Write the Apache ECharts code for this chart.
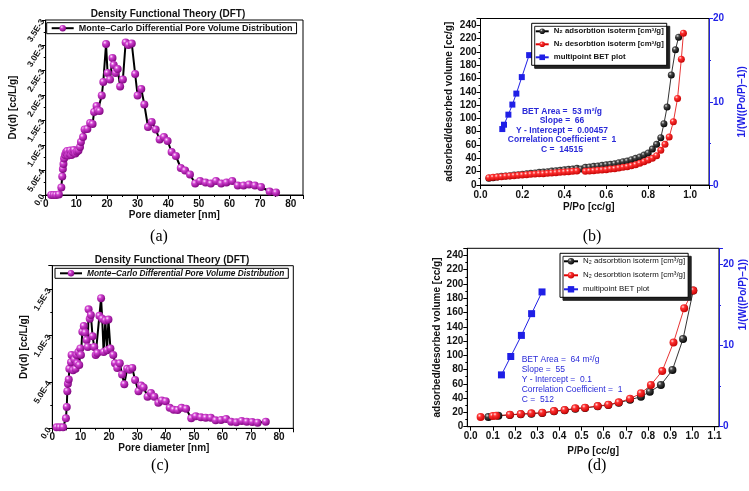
<!DOCTYPE html>
<html>
<head>
<meta charset="utf-8">
<script src="https://cdn.jsdelivr.net/npm/echarts@6/dist/echarts.min.js"></script>
<style>
  html, body { margin: 0; background: #fff; }
  #chart { width: 749px; height: 491px; }
</style>
</head>
<body>
<div id="chart"></div>
<script>
// (a) DFT pore distribution
const aPore = [1.8, 2.6, 3.4, 4.3, 5.1, 5.4, 5.6, 5.8, 6.0, 6.3, 6.6, 7.0, 7.3, 7.7, 8.0, 8.4, 8.8, 9.2, 9.7,
  10.2, 10.7, 11.2, 11.5, 12.2, 12.7, 13.6, 14.5, 15.3, 15.8, 16.6, 17.0, 17.6, 18.3, 18.8, 19.7, 20.2, 21.0,
  21.8, 22.2, 22.8, 23.5, 24.3, 25.2, 26.1, 27.0, 28.1, 29.2, 30.0, 31.2, 32.2, 33.4, 34.6, 35.9, 37.2, 38.6,
  39.8, 41.1, 42.5, 44.1, 45.5, 47.1, 48.8, 50.4, 52.2, 53.9, 55.6, 57.3, 59.0, 60.9, 62.7, 64.6, 66.4, 68.3,
  70.3, 73.1, 75.2];
const aDv = [0, 0, 0, 1e-5, 1.5e-4, 3.7e-4, 5.2e-4, 6.2e-4, 7.3e-4, 8.0e-4, 8.5e-4, 8.8e-4, 7.9e-4, 8.3e-4,
  8.9e-4, 8.0e-4, 8.6e-4, 9.0e-4, 8.3e-4, 8.7e-4, 8.9e-4, 9.6e-4, 1.06e-3, 1.16e-3, 1.31e-3, 1.32e-3, 1.44e-3,
  1.42e-3, 1.66e-3, 1.78e-3, 1.69e-3, 1.68e-3, 1.99e-3, 2.26e-3, 3.02e-3, 2.44e-3, 2.31e-3, 2.74e-3, 2.60e-3,
  2.44e-3, 2.52e-3, 2.17e-3, 2.31e-3, 3.05e-3, 3.00e-3, 3.03e-3, 2.42e-3, 1.99e-3, 2.12e-3, 1.81e-3, 1.36e-3,
  1.46e-3, 1.31e-3, 1.11e-3, 1.16e-3, 1.08e-3, 8.6e-4, 7.8e-4, 5.4e-4, 4.9e-4, 4.1e-4, 2.3e-4, 2.8e-4, 2.5e-4,
  2.3e-4, 2.8e-4, 2.3e-4, 2.5e-4, 2.8e-4, 1.9e-4, 1.9e-4, 2.1e-4, 1.9e-4, 1.6e-4, 7e-5, 5e-5];

// (c) DFT pore distribution
const cPore = [1.5, 2.6, 3.8, 4.8, 5.1, 5.3, 5.5, 5.8, 6.0, 6.6, 6.8, 7.3, 7.8, 8.2, 8.6, 8.8, 9.2, 9.5, 9.9,
  10.1, 10.6, 11.1, 11.6, 12.1, 12.5, 12.8, 13.2, 13.6, 14.2, 14.8, 15.3, 15.9, 16.6, 17.2, 17.6, 18.1, 18.7,
  19.3, 19.8, 20.5, 21.5, 22.1, 22.9, 23.8, 24.6, 25.4, 26.4, 27.3, 28.2, 29.2, 30.4, 31.3, 32.2, 33.6, 34.8,
  36.0, 37.4, 38.6, 40.0, 41.4, 42.8, 44.2, 45.6, 47.2, 49.0, 50.6, 52.4, 54.1, 55.9, 57.6, 59.5, 61.3, 63.1,
  64.9, 66.8, 68.6, 70.5, 72.4, 75.3];
const cDv = [1e-5, 1e-5, 1e-5, 1.07e-4, 2.3e-4, 4.0e-4, 4.8e-4, 5.25e-4, 6.4e-4, 7.1e-4, 7.9e-4, 6.25e-4, 7.4e-4,
  6.4e-4, 7.9e-4, 7.0e-4, 8.2e-4, 6.8e-4, 8.6e-4, 7.9e-4, 1.04e-3, 1.10e-3, 1.03e-3, 9.5e-4, 8.75e-4, 1.28e-3,
  1.18e-3, 1.22e-3, 9.9e-4, 8.75e-4, 7.9e-4, 8.1e-4, 1.21e-3, 1.40e-3, 1.18e-3, 8.2e-4, 1.16e-3, 8.4e-4, 1.17e-3,
  8.6e-4, 7.9e-4, 7.0e-4, 6.5e-4, 7.0e-4, 5.8e-4, 4.75e-4, 6.4e-4, 6.3e-4, 6.5e-4, 5.2e-4, 4.0e-4, 4.6e-4,
  4.4e-4, 3.4e-4, 3.8e-4, 3.4e-4, 2.75e-4, 3.0e-4, 2.9e-4, 2.2e-4, 2.0e-4, 1.96e-4, 2.2e-4, 2.1e-4, 1.07e-4,
  1.29e-4, 1.18e-4, 1.14e-4, 1.14e-4, 8.6e-5, 9.0e-5, 1.0e-4, 7.1e-5, 6.4e-5, 7.9e-5, 7.1e-5, 6.8e-5, 6.1e-5, 7.1e-5];

// (b) isotherms + BET
const bAdsP = [0.04, 0.06, 0.08, 0.10, 0.12, 0.14, 0.16, 0.18, 0.20, 0.22, 0.24, 0.26, 0.28, 0.30, 0.32, 0.34,
  0.36, 0.38, 0.40, 0.42, 0.44, 0.46, 0.48, 0.50, 0.52, 0.54, 0.56, 0.58, 0.60, 0.62, 0.64, 0.66, 0.68, 0.70,
  0.72, 0.74, 0.76, 0.78, 0.80, 0.82, 0.84, 0.86, 0.875, 0.89, 0.91, 0.93, 0.945];
const bAdsV = [10, 11, 12, 13, 13.5, 14, 15, 15.5, 16, 17, 17.5, 18, 19, 19.5, 20, 21, 21.5, 22, 23, 23.5, 24,
  25, 24, 26.5, 27, 28, 28.5, 29.5, 30.5, 31, 32, 33.5, 35, 36, 38, 40, 42, 45, 48, 54, 61, 71, 92, 117, 165,
  203, 222];
const bDesP = [0.04, 0.06, 0.08, 0.10, 0.12, 0.14, 0.16, 0.18, 0.20, 0.22, 0.24, 0.26, 0.28, 0.30, 0.32, 0.34,
  0.36, 0.38, 0.40, 0.42, 0.44, 0.46, 0.50, 0.52, 0.54, 0.56, 0.58, 0.60, 0.62, 0.64, 0.66, 0.68, 0.70, 0.72,
  0.74, 0.76, 0.78, 0.80, 0.82, 0.84, 0.86, 0.88, 0.90, 0.92, 0.94, 0.958, 0.968];
const bDesV = [11, 11.5, 12, 12.5, 13, 13.5, 14, 14.5, 15, 15.5, 16, 16.5, 17, 17, 17.5, 18, 18.5, 19, 19.5,
  20, 20.5, 21, 20.5, 21, 21.5, 22, 22.5, 23, 24, 24.5, 25.5, 26.5, 27.5, 29, 30.5, 32.5, 35, 37.5, 40, 44, 52,
  61, 72, 95, 130, 189, 228];
const bBetP = [0.104, 0.112, 0.133, 0.152, 0.171, 0.197, 0.232];
const bBetV = [6.72, 7.24, 8.45, 9.66, 10.98, 12.96, 15.6];
const bNotes = ['BET Area =  53 m²/g', 'Slope =  66', 'Y - Intercept =  0.00457',
  'Correlation Coefficient =  1', 'C =  14515'];

// (d) isotherms + BET
const dAdsP = [0.08, 0.125, 0.177, 0.226, 0.274, 0.323, 0.376, 0.424, 0.472, 0.516, 0.573, 0.621, 0.668,
  0.719, 0.768, 0.808, 0.858, 0.91, 0.958, 1.004];
const dAdsV = [13.6, 15.2, 16.5, 17.5, 18.3, 19.3, 21.5, 23, 25.3, 26.3, 28.5, 30.5, 33.5, 37.8, 42, 49, 58.5,
  79.5, 123, 191];
const dDesP = [0.045, 0.10, 0.115, 0.177, 0.226, 0.274, 0.323, 0.376, 0.424, 0.472, 0.516, 0.573, 0.621, 0.668,
  0.719, 0.768, 0.813, 0.864, 0.915, 0.963, 1.004];
const dDesV = [13.6, 15, 15.5, 16.8, 17.8, 18.7, 19.6, 22, 23.4, 25.7, 26.7, 29, 30.9, 34.1, 39.3, 46.8, 58.5,
  78, 118, 166, 191];
const dBetP = [0.139, 0.181, 0.229, 0.275, 0.322];
const dBetV = [6.39, 8.66, 11.26, 13.94, 16.62];
const dTicks = [0.0, 0.1, 0.2, 0.3, 0.4, 0.5, 0.6, 0.7, 0.8, 0.9, 1.0, 1.1];
const dNotes = ['BET Area =  64 m²/g', 'Slope =  55', 'Y - Intercept =  0.1',
  'Correlation Coefficient =  1', 'C =  512'];

const FONT = 'Liberation Sans, Arial, sans-serif';
const BLUE = '#1f1fe6';
const NOTE_BLUE = '#2a2ad8';

const legendText = {
  aDv: 'Monte–Carlo Differential Pore Volume Distribution',
  cDv: 'Monte–Carlo Differential Pore Volume Distribution',
  bAds: 'N₂ adsorbtion isoterm [cm³/g]',
  bDes: 'N₂ desorbtion isoterm [cm³/g]',
  bBet: 'multipoint BET plot',
  dAds: 'N₂ adsorbtion isoterm [cm³/g]',
  dDes: 'N₂ desorbtion isoterm [cm³/g]',
  dBet: 'multipoint BET plot'
};

function zip(xs, ys) { return xs.map((x, i) => [x, ys[i]]); }
function ball(light, mid, dark) {
  return { type: 'radial', x: 0.35, y: 0.32, r: 0.75,
    colorStops: [{ offset: 0, color: light }, { offset: 0.3, color: mid }, { offset: 1, color: dark }] };
}
function sci(v) {
  if (v === 0) return '0.0';
  return v.toExponential(1).toUpperCase().replace('+', '');
}

const purple = ball('#ffe8ff', '#d040d0', '#7a007a');
const blackBall = ball('#e0e0e0', '#444', '#000');
const redBall = ball('#ffe0e0', '#ff3030', '#c00000');

const lbl = { color: '#111', fontWeight: 'bold', fontSize: 10, fontFamily: FONT };
const nameStyle = { color: '#111', fontWeight: 'bold', fontSize: 10, fontFamily: FONT };

function axis(gridIndex, o) {
  return Object.assign({
    type: 'value', gridIndex: gridIndex,
    axisLine: { show: true, onZero: false, lineStyle: { color: '#000', width: 1 } },
    axisTick: { show: true, length: 4, lineStyle: { color: '#000' } },
    minorTick: { show: true, splitNumber: 2, length: 2, lineStyle: { color: '#000' } },
    splitLine: { show: false },
    nameLocation: 'middle',
    nameTextStyle: nameStyle
  }, o);
}

const grid = (l, t, w, h) => ({ left: l, top: t, width: w, height: h, show: true,
  borderColor: '#000', borderWidth: 1, backgroundColor: 'transparent' });

const option = {
  animation: false,
  backgroundColor: '#fff',
  textStyle: { fontFamily: FONT },
  title: [
    { text: 'Density Functional Theory (DFT)', left: 163, top: 4, textAlign: 'center',
      textStyle: { fontSize: 10, fontWeight: 'bold', color: '#111', fontFamily: FONT } },
    { text: 'Density Functional Theory (DFT)', left: 167, top: 250, textAlign: 'center',
      textStyle: { fontSize: 10, fontWeight: 'bold', color: '#111', fontFamily: FONT } }
  ],
  grid: [
    grid(45.7, 20, 257.3, 175),
    grid(480.5, 18.5, 228.5, 166.5),
    grid(52.3, 265.7, 241, 162.6),
    grid(467.3, 248.3, 252.7, 178.4)
  ],
  xAxis: [
    axis(0, { min: 0, max: 84, interval: 10, name: 'Pore diameter [nm]', nameGap: 14,
      axisLabel: Object.assign({ showMaxLabel: false, margin: 4 }, lbl) }),
    axis(1, { min: 0, max: 1.09, interval: 0.2, name: 'P/Po [cc/g]', nameGap: 17,
      nameTextStyle: Object.assign({ padding: [0, 12, 0, 0] }, nameStyle),
      axisLabel: Object.assign({ showMaxLabel: false, margin: 5, formatter: v => v.toFixed(1) }, lbl) }),
    axis(2, { min: 0, max: 85, interval: 10, name: 'Pore diameter [nm]', nameGap: 13,
      nameTextStyle: Object.assign({ padding: [0, 18, 0, 0] }, nameStyle),
      axisLabel: Object.assign({ showMaxLabel: false, margin: 4 }, lbl) }),
    axis(3, { min: -0.015, max: 1.12, name: 'P/Po [cc/g]', nameGap: 20,
      minorTick: { show: false },
      axisTick: { show: true, length: 4, customValues: dTicks, lineStyle: { color: '#000' } },
      axisLabel: Object.assign({ customValues: dTicks, margin: 5, formatter: v => v.toFixed(1) }, lbl) })
  ],
  yAxis: [
    axis(0, { min: 0, max: 0.0035, interval: 0.0005, name: 'Dv(d) [cc/L/g]', nameGap: 27,
      axisLabel: Object.assign({}, lbl, { rotate: 58, margin: 3, fontSize: 8.5, formatter: sci }) }),
    axis(1, { min: 0, max: 250, interval: 20, name: 'adsorbed/desorbed volume [cc/g]', nameGap: 26,
      axisLabel: Object.assign({ showMaxLabel: false, margin: 4 }, lbl) }),
    axis(1, { min: 0, max: 20, interval: 10, position: 'right', name: '1/(W((Po/P)−1))', nameGap: 28,
      axisLine: { show: true, onZero: false, lineStyle: { color: BLUE, width: 1 } },
      axisTick: { show: true, length: 4, lineStyle: { color: BLUE } },
      minorTick: { show: true, splitNumber: 2, length: 2, lineStyle: { color: BLUE } },
      nameTextStyle: Object.assign({}, nameStyle, { color: BLUE }),
      axisLabel: Object.assign({}, lbl, { color: BLUE, margin: 4 }) }),
    axis(2, { min: 0, max: 0.00175, interval: 0.0005, name: 'Dv(d) [cc/L/g]', nameGap: 23,
      axisLabel: Object.assign({}, lbl, { rotate: 58, margin: 3, fontSize: 8.5, showMaxLabel: false, formatter: sci }) }),
    axis(3, { min: 0, max: 250, interval: 20, name: 'adsorbed/desorbed volume [cc/g]', nameGap: 18,
      axisLabel: Object.assign({ showMaxLabel: false, margin: 4 }, lbl) }),
    axis(3, { min: 0, max: 22, interval: 10, position: 'right', name: '1/(W((Po/P)−1))', nameGap: 17,
      axisLine: { show: true, onZero: false, lineStyle: { color: BLUE, width: 1 } },
      axisTick: { show: true, length: 4, lineStyle: { color: BLUE } },
      minorTick: { show: true, splitNumber: 2, length: 2, lineStyle: { color: BLUE } },
      nameTextStyle: Object.assign({}, nameStyle, { color: BLUE, padding: [0, 0, 0, 86] }),
      axisLabel: Object.assign({}, lbl, { color: BLUE, margin: 4, showMaxLabel: false }) })
  ],
  legend: [
    { data: ['aDv'], left: 46.7, top: 22.7, padding: [1, 4, 1, 4], itemWidth: 22, itemHeight: 8,
      borderColor: '#000', borderWidth: 1, backgroundColor: '#fff', borderRadius: 0,
      formatter: n => legendText[n],
      textStyle: { fontSize: 9, fontWeight: 'bold', color: '#111', fontFamily: FONT } },
    { data: ['cDv'], left: 55, top: 268.3, padding: [1, 4, 1, 4], itemWidth: 22, itemHeight: 8,
      borderColor: '#000', borderWidth: 1, backgroundColor: '#fff', borderRadius: 0,
      formatter: n => legendText[n],
      textStyle: { fontSize: 8.3, fontWeight: 'bold', fontStyle: 'italic', color: '#111', fontFamily: FONT } },
    { data: ['bAds', 'bDes', 'bBet'], left: 531.7, top: 23.3, orient: 'vertical', itemGap: 5,
      padding: [4, 3, 4, 3], itemWidth: 13, itemHeight: 7, borderColor: '#000', borderWidth: 1,
      backgroundColor: '#fff', borderRadius: 0, shadowColor: '#222', shadowOffsetX: 3, shadowOffsetY: 3,
      formatter: n => legendText[n],
      textStyle: { fontSize: 7.8, fontWeight: 'bold', color: '#111', fontFamily: FONT } },
    { data: ['dAds', 'dDes', 'dBet'], left: 560, top: 253.3, orient: 'vertical', itemGap: 6,
      padding: [4, 3, 4, 3], itemWidth: 14, itemHeight: 8, borderColor: '#000', borderWidth: 1,
      backgroundColor: '#fff', borderRadius: 0, shadowColor: '#222', shadowOffsetX: 3, shadowOffsetY: 3,
      formatter: n => legendText[n],
      textStyle: { fontSize: 7.9, color: '#111', fontFamily: FONT } }
  ],
  series: [
    { name: 'aDv', type: 'line', xAxisIndex: 0, yAxisIndex: 0, data: zip(aPore, aDv),
      symbol: 'circle', symbolSize: 8, itemStyle: { color: purple },
      lineStyle: { color: '#000', width: 2 } },
    { name: 'bAds', type: 'line', xAxisIndex: 1, yAxisIndex: 1, data: zip(bAdsP, bAdsV),
      symbol: 'circle', symbolSize: 7, itemStyle: { color: blackBall }, lineStyle: { color: '#000', width: 0.8 } },
    { name: 'bDes', type: 'line', xAxisIndex: 1, yAxisIndex: 1, data: zip(bDesP, bDesV),
      symbol: 'circle', symbolSize: 7, itemStyle: { color: redBall }, lineStyle: { color: '#e00000', width: 0.8 } },
    { name: 'bBet', type: 'line', xAxisIndex: 1, yAxisIndex: 2, data: zip(bBetP, bBetV),
      symbol: 'rect', symbolSize: 6, itemStyle: { color: BLUE }, lineStyle: { color: BLUE, width: 1 } },
    { name: 'cDv', type: 'line', xAxisIndex: 2, yAxisIndex: 3, data: zip(cPore, cDv),
      symbol: 'circle', symbolSize: 8, itemStyle: { color: purple },
      lineStyle: { color: '#000', width: 2 } },
    { name: 'dAds', type: 'line', xAxisIndex: 3, yAxisIndex: 4, data: zip(dAdsP, dAdsV),
      symbol: 'circle', symbolSize: 8, itemStyle: { color: blackBall }, lineStyle: { color: '#000', width: 0.8 } },
    { name: 'dDes', type: 'line', xAxisIndex: 3, yAxisIndex: 4, data: zip(dDesP, dDesV),
      symbol: 'circle', symbolSize: 8, itemStyle: { color: redBall }, lineStyle: { color: '#e00000', width: 0.8 } },
    { name: 'dBet', type: 'line', xAxisIndex: 3, yAxisIndex: 5, data: zip(dBetP, dBetV),
      symbol: 'rect', symbolSize: 7, itemStyle: { color: BLUE }, lineStyle: { color: BLUE, width: 1 } }
  ],
  graphic: [].concat(
    bNotes.map((t, i) => ({ type: 'text', x: 562, y: 111.7 + i * 9.4, z: 10,
      style: { text: t, fill: NOTE_BLUE, font: 'bold 8.5px ' + FONT, textAlign: 'center', textVerticalAlign: 'middle' } })),
    dNotes.map((t, i) => ({ type: 'text', x: 521.7, y: 360 + i * 10, z: 10,
      style: { text: t, fill: NOTE_BLUE, font: '8.5px ' + FONT, textAlign: 'left', textVerticalAlign: 'middle' } })),
    [['(a)', 159, 237], ['(b)', 592, 237], ['(c)', 160, 466], ['(d)', 597, 466]].map(c => ({
      type: 'text', x: c[1], y: c[2],
      style: { text: c[0], fill: '#000', font: '16px Liberation Serif, Times New Roman, serif',
        textAlign: 'center', textVerticalAlign: 'middle' } }))
  )
};

const chart = echarts.init(document.getElementById('chart'), null, { renderer: 'canvas' });
chart.setOption(option);
</script>
</body>
</html>
